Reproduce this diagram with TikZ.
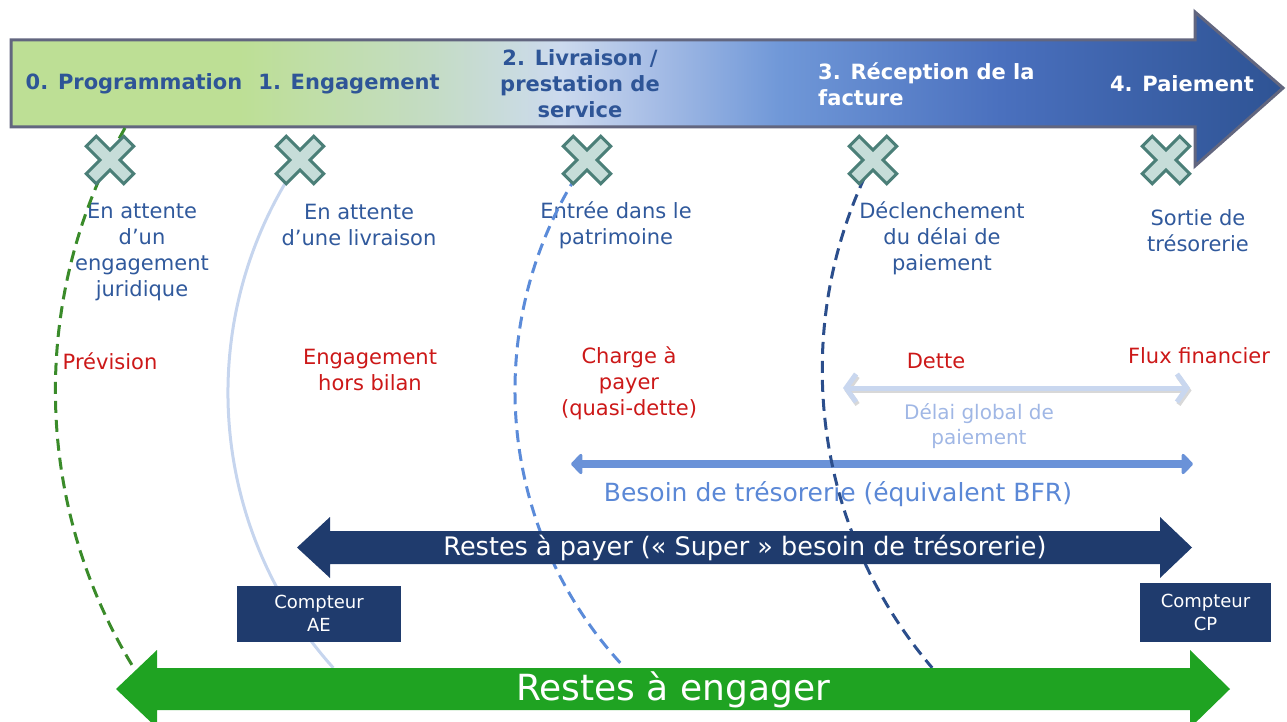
\documentclass[tikz,border=0pt]{standalone}
\usepackage{fontspec}
\setmainfont{DejaVu Sans}
\usetikzlibrary{arrows.meta}
\definecolor{cA}{HTML}{BDDF95}
\definecolor{cB}{HTML}{C4DCC4}
\definecolor{cC}{HTML}{CCDAEE}
\definecolor{cD}{HTML}{A8BEE6}
\definecolor{cE}{HTML}{7098D8}
\definecolor{cF}{HTML}{4A70BE}
\definecolor{cG}{HTML}{2E5394}
\definecolor{barline}{HTML}{62667F}
\definecolor{headblue}{HTML}{2E5597}
\definecolor{txtblue}{HTML}{30599C}
\definecolor{txtred}{HTML}{CC1818}
\definecolor{xfill}{HTML}{C6DDD9}
\definecolor{xline}{HTML}{4B7F78}
\definecolor{arcgreen}{HTML}{3A8B2A}
\definecolor{arclight}{HTML}{C6D5EE}
\definecolor{arcmid}{HTML}{5B8BD9}
\definecolor{arcdark}{HTML}{2B4E8C}
\definecolor{dettecol}{HTML}{C9D7EF}
\definecolor{delaicol}{HTML}{A0B7E5}
\definecolor{bfrcol}{HTML}{6A92D8}
\definecolor{bfrtxt}{HTML}{5B88D6}
\definecolor{navy}{HTML}{1F3B6D}
\definecolor{garr}{HTML}{1FA322}
\pgfdeclarehorizontalshading{barshade}{100bp}{color(0bp)=(cA); color(34bp)=(cA); color(41.5bp)=(cB); color(46.6bp)=(cC); color(50.1bp)=(cD); color(55.2bp)=(cE); color(63.9bp)=(cF); color(75bp)=(cG); color(100bp)=(cG)}
\tikzset{
  xmk/.pic={\draw[fill=xfill, draw=xline, line width=3pt, line join=miter, rotate=45]
    (26.5,7) -- (7,7) -- (7,26.5) -- (-7,26.5) -- (-7,7) -- (-26.5,7) -- (-26.5,-7) -- (-7,-7) -- (-7,-26.5) -- (7,-26.5) -- (7,-7) -- (26.5,-7) -- cycle;},
  hd/.style={font=\bfseries\fontsize{21}{26}\selectfont, text=headblue, align=center, inner sep=0pt},
  bt/.style={font=\fontsize{21}{26}\selectfont, text=txtblue, align=center, inner sep=0pt},
  rt/.style={font=\fontsize{21}{26}\selectfont, text=txtred, align=center, inner sep=0pt},
  arcline/.style={line width=3pt},
  dsh/.style={dash pattern=on 12pt off 7pt},
  cbox/.style={fill=navy, text=white, align=center, font=\fontsize{18}{23}\selectfont, inner sep=0pt},
  mybarb/.tip={Straight Barb[length=10pt,width=28pt]},
  mytri/.tip={Triangle[length=12pt,width=24pt,round]},
}
\begin{document}
\begin{tikzpicture}[x=1pt,y=-1pt]
\useasboundingbox (0,0) rectangle (1287,722);
% top process arrow
\path[shading=barshade, draw=barline, line width=3pt, line join=miter]
  (11,40) -- (1195,40) -- (1195,12) -- (1283,88) -- (1195,166) -- (1195,127) -- (11,127) -- cycle;
\node[hd] (h0) at (134,84) {0. Programmation};
\node[hd] (h1) at (349,84) {1. Engagement};
\node[hd] (h2) at (580,84) {2. Livraison /\\prestation de\\service};
\node[hd, text=white, align=left, anchor=west] (h3) at (818,84) {3. Réception de la\\facture};
\node[hd, text=white] (h4) at (1182,84) {4. Paiement};
% step descriptions
\node[bt] (d0) at (142,252) {En attente\\d’un\\engagement\\juridique};
\node[bt] (d1) at (359,225) {En attente\\d’une livraison};
\node[bt] (d2) at (616,225) {Entrée dans le\\patrimoine};
\node[bt] (d3) at (942,238) {Déclenchement\\du délai de\\paiement};
\node[bt] (d4) at (1198,231) {Sortie de\\trésorerie};
% red states
\node[rt] (r0) at (110,361) {Prévision};
\node[rt] (r1) at (370,370) {Engagement\\hors bilan};
\node[rt] (r2) at (629,383) {Charge à\\payer\\(quasi-dette)};
\node[rt] (r3) at (936,361) {Dette};
\node[rt] (r4) at (1199,356) {Flux financier};
% delai global arrow
\coordinate (dl) at (843,388);
\coordinate (dr) at (1190,388);
\draw[black!30, opacity=.5, line width=5pt, {mybarb}-{mybarb}] ([shift={(1.5,2.5)}]dl) -- ([shift={(1.5,2.5)}]dr);
\draw[dettecol, line width=5pt, {mybarb}-{mybarb}] (dl) -- (dr);
\node[font=\fontsize{20}{25}\selectfont, text=delaicol, align=center, inner sep=0pt] (dg) at (979,426) {Délai global de\\paiement};
% BFR arrow
\coordinate (bl) at (571,464);
\coordinate (br) at (1193,464);
\draw[bfrcol, line width=8pt, {mytri}-{mytri}] (bl) -- (br);
\node[font=\fontsize{25}{30}\selectfont, text=bfrtxt, inner sep=0pt] (bfr) at (838,494) {Besoin de trésorerie (équivalent BFR)};
% X markers positions
\coordinate (x0) at (110,160);
\coordinate (x1) at (300,160);
\coordinate (x2) at (587,160);
\coordinate (x3) at (873,160);
\coordinate (x4) at (1166,160);
% arcs
\draw[arcline, arcgreen, dsh] (125,128) arc[start angle=209.7, end angle=148.3, radius=530];
\draw[arcline, arclight] (x1) arc[start angle=214.4, end angle=138.1, radius=412];
\draw[arcline, arcmid, dsh] (x2) arc[start angle=214.7, end angle=136.75, radius=405];
\draw[arcline, arcdark, dsh] (x3) arc[start angle=207.2, end angle=139.5, radius=459];
% X markers
\pic at (x0) {xmk};
\pic at (x1) {xmk};
\pic at (x2) {xmk};
\pic at (x3) {xmk};
\pic at (x4) {xmk};
% restes a payer
\fill[navy] (297,547.5) -- (330,517) -- (330,531) -- (1160,531) -- (1160,517) -- (1192,547.5) -- (1160,578) -- (1160,564) -- (330,564) -- (330,578) -- cycle;
\node[font=\fontsize{25.5}{30}\selectfont, text=white, inner sep=0pt] (rap) at (745,548) {Restes à payer (« Super » besoin de trésorerie)};
% compteurs
\node[cbox, minimum width=164pt, minimum height=56pt] (ae) at (319,613.5) {Compteur\\AE};
\node[cbox, minimum width=131pt, minimum height=59pt] (cp) at (1205.5,612.5) {Compteur\\CP};
% restes a engager
\fill[garr] (116,689) -- (157,650) -- (157,668) -- (1190,668) -- (1190,650) -- (1230,689) -- (1190,728) -- (1190,710) -- (157,710) -- (157,728) -- cycle;
\node[font=\fontsize{36}{40}\selectfont, text=white, inner sep=0pt] (rae) at (673,690) {Restes à engager};
\end{tikzpicture}
\end{document}
